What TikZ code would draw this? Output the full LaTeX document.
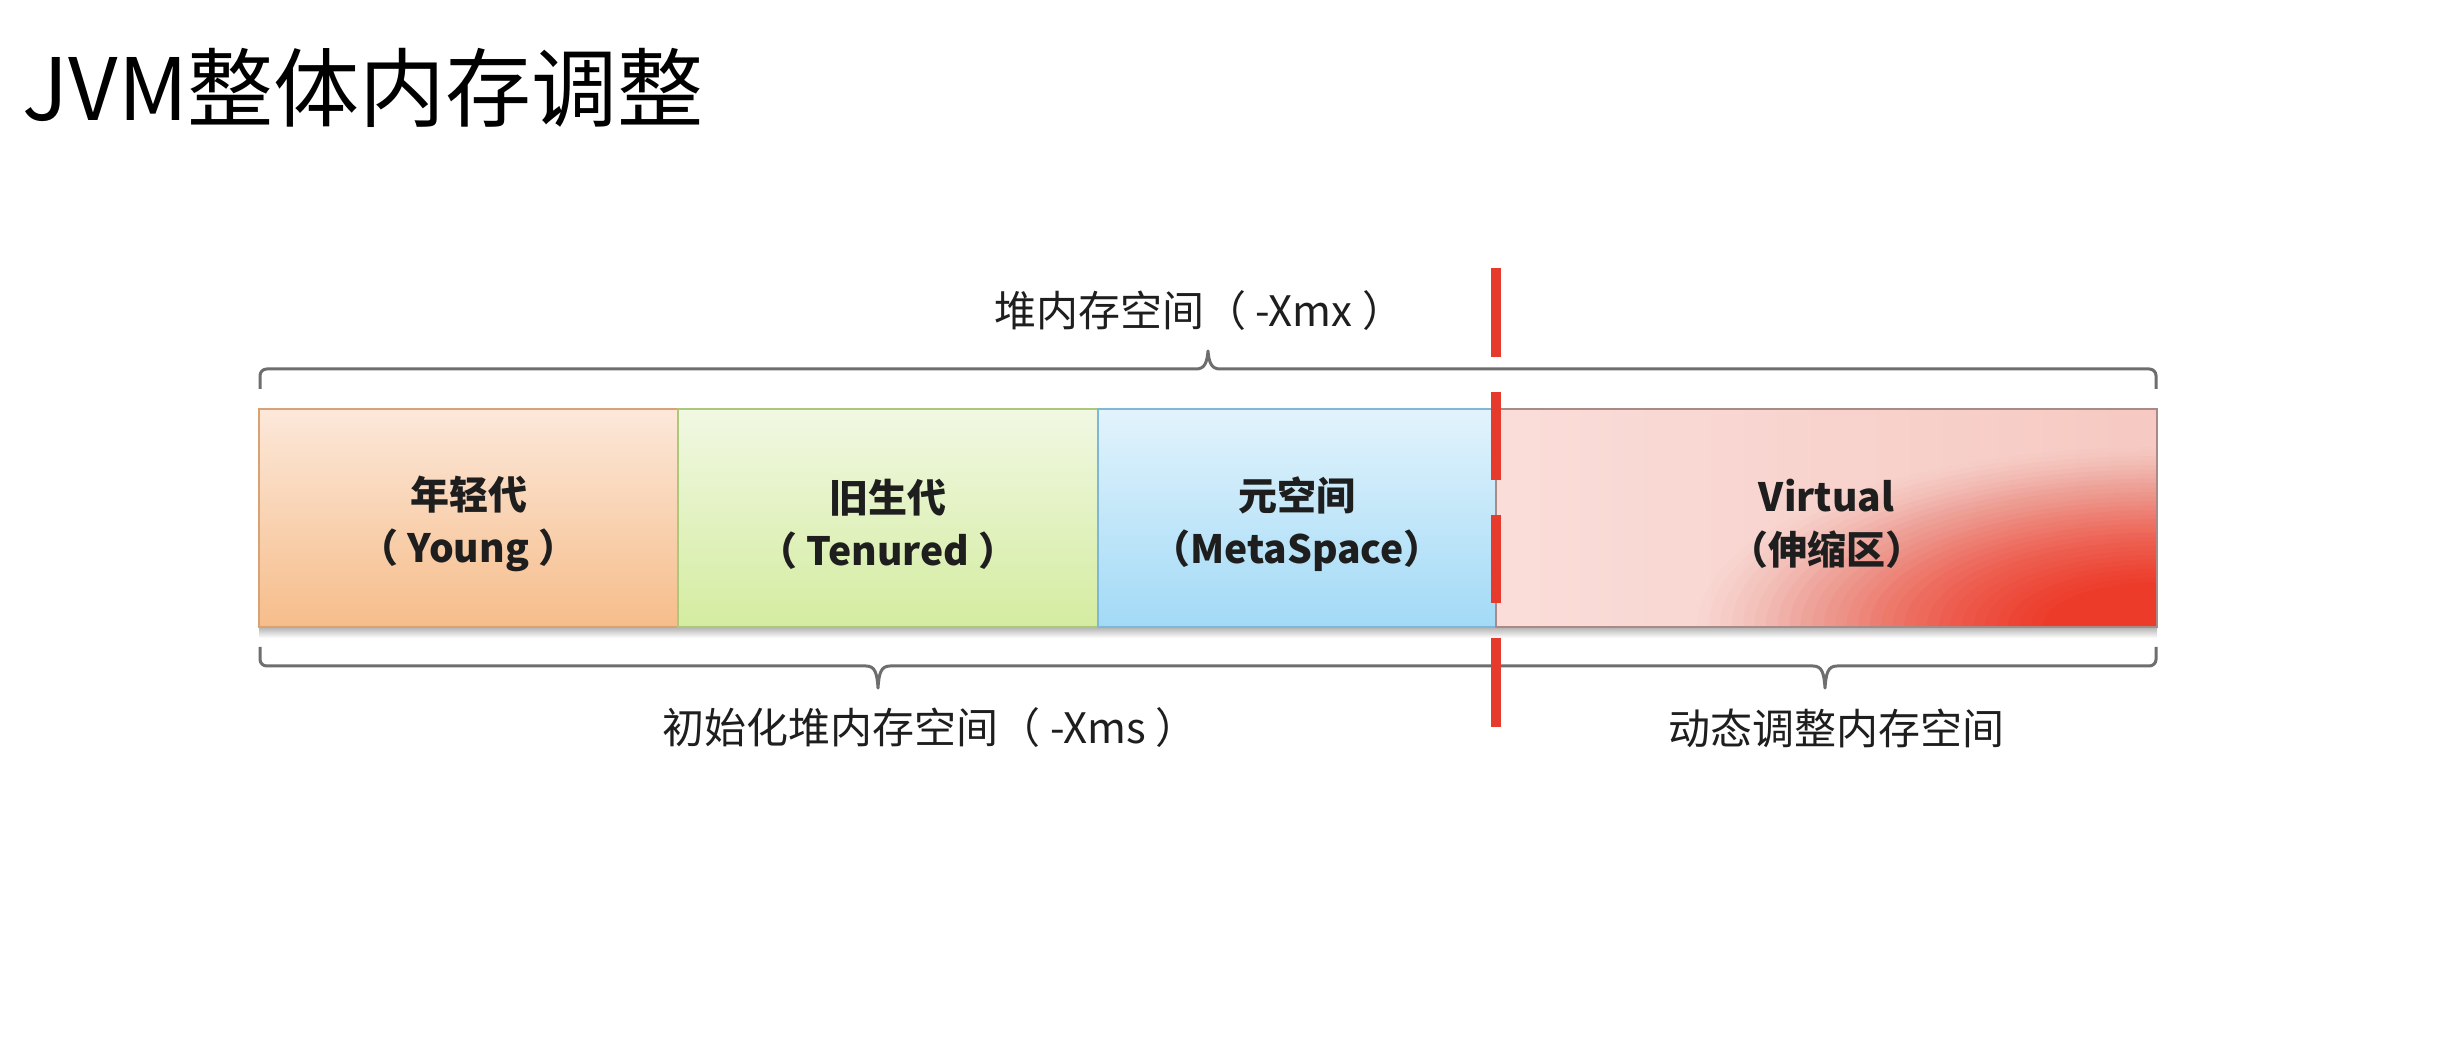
\documentclass[tikz,border=0pt]{standalone}
\usepackage{fontspec}
\setmainfont{Noto Sans CJK SC}
\usetikzlibrary{calc}

\definecolor{youngtop}{HTML}{FCE8DA}
\definecolor{youngbot}{HTML}{F6BD8A}
\definecolor{youngedge}{HTML}{D9A274}
\definecolor{tentop}{HTML}{F1F8E3}
\definecolor{tenbot}{HTML}{D4ECA0}
\definecolor{tenedge}{HTML}{ADC879}
\definecolor{metatop}{HTML}{E2F3FC}
\definecolor{metabot}{HTML}{A2DAF6}
\definecolor{metaedge}{HTML}{7FB8D6}
\definecolor{virtleft}{HTML}{FADDD9}
\definecolor{virtright}{HTML}{F6C9C2}
\definecolor{virtedge}{HTML}{A88A86}
\definecolor{hotred}{HTML}{ED3B29}
\definecolor{cutred}{HTML}{E53A2C}
\definecolor{bracegray}{HTML}{6E6E6E}
\definecolor{inktext}{HTML}{1E1E1E}

\begin{document}
\begin{tikzpicture}[x=0.3pt, y=-0.3pt,
  region/.style={draw, line width=0.45pt, inner sep=0pt, outer sep=0pt,
    anchor=north west, minimum height=65.4pt},
  regiontext/.style={inner sep=0pt, align=center, text=inktext,
    font=\bfseries\fontsize{11.7}{15.9}\selectfont},
  caption/.style={inner sep=0pt, text=inktext, font=\fontsize{12.6}{15}\selectfont},
  brace/.style={draw=bracegray, line width=0.9pt, line join=round},
  cut/.style={draw=cutred, line width=3pt},
  % red glow in a corner: 40 nested ellipses whose opacities add up to (1-r^2)^1.5
  hotglow/.style={path picture={
    \foreach \k in {1,...,40}{
      \pgfmathsetmacro\glowalpha{1-(1-(1-((\k-1)/40)^2)^1.5)/(1-(1-(\k/40)^2)^1.5)}
      \fill[hotred, opacity=\glowalpha] (path picture bounding box.south east)
        ellipse [x radius={11.5*\k}, y radius={4.5*\k}];
    }}}]

\useasboundingbox[fill=white] (0,0) rectangle (2450,1062);

% title
\node[anchor=base west, inner sep=0pt, text=black,
      font=\fontsize{25.8}{30}\selectfont] (title) at (22,121) {JVM整体内存调整};

% soft shadow under the memory bar
\shade[top color=black!30, bottom color=white] (259,627) rectangle (2157,638);

% memory regions
\node[region, draw=youngedge, top color=youngtop, bottom color=youngbot,
      minimum width=125.7pt] (young) at (259,409) {};
\node[region, draw=tenedge, top color=tentop, bottom color=tenbot,
      minimum width=126pt] (tenured) at (678,409) {};
\node[region, draw=metaedge, top color=metatop, bottom color=metabot,
      minimum width=119.4pt] (meta) at (1098,409) {};
\node[region, draw=virtedge, left color=virtleft, right color=virtright,
      minimum width=198.3pt, hotglow] (virtual) at (1496,409) {};

% region names
\node[regiontext] (youngtxt) at ($(young.center)+(0,6)$) {年轻代\\（ Young ）};
\node[regiontext] (tenuredtxt) at ($(tenured.center)+(0,6)$) {旧生代\\（ Tenured ）};
\node[regiontext] (metatxt) at ($(meta.center)+(0,6)$) {元空间\\（MetaSpace）};
\node[regiontext] (virtualtxt) at ($(virtual.center)+(0,6)$) {Virtual\\（伸缩区）};

% brace over the whole heap
\draw[brace] (260,389) [rounded corners=2pt] -- (260,369) -- (600,369) [sharp corners]
  -- (1196,369) .. controls (1205,369) and (1207,362) .. (1208,351)
  .. controls (1209,362) and (1211,369) .. (1220,369)
  -- (1900,369) [rounded corners=2pt] -- (2156,369) -- (2156,389);

% braces under the initial and the dynamic part
\draw[brace] (260,647) [rounded corners=2pt] -- (260,666) -- (600,666) [sharp corners]
  -- (866,666) .. controls (875,666) and (877,673) .. (878,688)
  .. controls (879,673) and (881,666) .. (890,666)
  -- (1813,666) .. controls (1822,666) and (1824,673) .. (1825,688)
  .. controls (1826,673) and (1828,666) .. (1837,666)
  -- (1900,666) [rounded corners=2pt] -- (2156,666) -- (2156,647);

% captions
\node[caption] (heapmax) at (1199,311) {堆内存空间（ -Xmx ）};
\node[caption] (heapinit) at (930,728) {初始化堆内存空间（ -Xms ）};
\node[caption] (dynamic) at (1836,728) {动态调整内存空间};

% dashed red limit line
\draw[cut] (1496,268) -- (1496,357);
\draw[cut] (1496,392) -- (1496,480);
\draw[cut] (1496,515) -- (1496,603);
\draw[cut] (1496,638) -- (1496,727);

\end{tikzpicture}
\end{document}
